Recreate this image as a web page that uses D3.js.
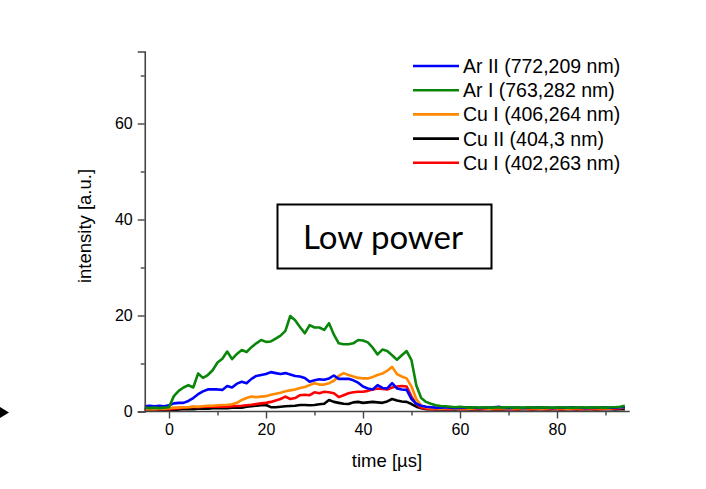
<!DOCTYPE html>
<html><head><meta charset="utf-8">
<script src="https://cdn.jsdelivr.net/npm/d3@7"></script>
<style>
html,body{margin:0;padding:0;background:#fff;}
svg{display:block;}
</style></head>
<body>
<svg id="chart" width="706" height="489"></svg>
<script>
// ---- data ----
const time = d3.range(-5, 95, 1); // µs, -5 .. 94

const seriesNames = ["Ar II (772,209 nm)","Ar I (763,282 nm)","Cu I (406,264 nm)","Cu II (404,3 nm)","Cu I (402,263 nm)"];
const seriesColors = ["#0000ff","#0a870a","#ff8a00","#000000","#ff0000"];

const arII = [1.1,1.2,1.1,1.2,1.1,1.3,
 1.7,1.8,1.8,2.2,2.8,3.6,4.2,4.6,4.6,4.6,
 4.5,5.3,5.0,5.8,6.2,5.9,6.8,7.4,7.6,7.8,
 8.2,8.0,7.8,8.0,7.7,7.4,7.3,7.0,6.2,6.5,
 6.7,6.6,6.9,7.5,6.8,6.8,6.8,6.5,6.0,5.2,
 4.8,4.6,5.5,4.9,4.8,5.9,4.8,4.6,4.5,2.6,
 1.6,1.2,1.0,0.9,0.8,0.8,0.9,0.8,0.7,0.8,
 0.8,0.9,0.8,0.7,0.8,0.8,0.9,1.0,0.8,0.7,
 0.8,0.8,0.7,0.8,0.8,0.9,0.8,0.8,0.7,0.8,
 0.8,0.8,0.9,0.8,0.8,0.7,0.8,0.8,0.8,0.9,
 0.8,0.8,0.9,0.9];

const arI = [0.8,0.7,0.8,0.7,0.8,0.9,
 3.2,4.3,5.0,5.5,5.0,7.9,7.0,7.6,8.6,10.2,
 11.0,12.5,10.9,12.0,12.8,12.4,13.4,14.2,14.9,14.5,
 14.6,15.2,15.8,16.8,19.9,19.0,17.6,16.3,18.0,17.5,
 17.5,17.0,18.4,16.0,14.2,14.0,14.0,14.2,14.9,14.8,
 14.4,13.3,11.9,12.9,12.6,11.7,10.8,11.7,12.6,10.7,
 5.4,2.8,2.0,1.6,1.3,1.15,1.1,1.0,0.9,1.0,
 0.9,0.8,0.9,0.8,0.9,0.8,0.8,0.9,0.8,0.9,
 0.8,0.8,0.8,0.9,0.8,0.8,0.9,0.8,0.8,0.8,
 0.9,0.8,0.8,0.8,0.9,0.8,0.8,0.9,0.8,0.8,
 0.9,0.9,1.0,1.2];

const cuI406 = [0.5,0.5,0.5,0.6,0.6,0.7,
 0.8,0.8,0.9,0.9,1.0,1.0,1.1,1.2,1.2,1.3,
 1.35,1.4,1.5,1.8,2.4,2.8,3.1,3.0,3.1,3.2,
 3.5,3.7,3.9,4.2,4.4,4.6,4.9,5.1,5.5,5.9,
 5.6,5.6,5.9,6.4,7.4,8.0,7.6,7.3,7.0,6.9,
 6.9,7.2,7.6,7.9,8.5,9.3,7.8,7.3,6.9,5.2,
 2.6,1.2,0.9,0.7,0.7,0.6,0.7,0.7,0.6,0.7,
 0.7,0.6,0.7,0.7,0.7,0.6,0.7,0.7,0.7,0.6,
 0.7,0.7,0.6,0.7,0.7,0.7,0.6,0.7,0.7,0.7,
 0.7,0.6,0.7,0.7,0.7,0.7,0.8,0.7,0.7,0.7,
 0.7,0.8,0.8,0.9];

const cuII404 = [0.3,0.3,0.3,0.3,0.3,0.3,
 0.4,0.4,0.5,0.5,0.5,0.6,0.6,0.6,0.7,0.7,
 0.7,0.7,0.8,0.8,0.8,1.0,1.1,1.2,1.3,1.35,
 0.9,0.9,1.0,1.1,1.15,1.2,1.35,1.35,1.3,1.35,
 1.5,1.6,2.4,2.0,1.8,1.6,1.55,1.9,2.0,1.8,
 1.9,2.0,1.9,1.8,2.1,2.6,2.3,2.1,2.0,1.55,
 1.0,0.7,0.5,0.5,0.4,0.5,0.4,0.5,0.4,0.5,
 0.5,0.4,0.5,0.4,0.5,0.5,0.4,0.5,0.4,0.5,
 0.5,0.4,0.5,0.5,0.4,0.5,0.5,0.4,0.5,0.5,
 0.4,0.5,0.5,0.4,0.5,0.5,0.5,0.4,0.5,0.5,
 0.5,0.4,0.5,0.5];

const cuI402 = [0.4,0.4,0.5,0.4,0.5,0.5,
 0.6,0.7,0.8,0.9,1.0,0.9,1.0,1.0,1.0,1.0,
 1.0,1.0,1.1,1.15,1.2,1.3,1.4,1.55,1.7,1.8,
 2.0,2.3,2.6,3.1,2.6,2.8,3.4,3.5,3.4,4.0,
 3.8,4.1,4.0,3.8,3.0,3.4,3.8,4.0,4.1,4.1,
 4.3,4.6,4.8,4.7,4.6,5.0,5.2,5.3,5.2,3.1,
 1.5,0.8,0.6,0.5,0.5,0.6,0.5,0.5,0.6,0.5,
 0.5,0.6,0.5,0.5,0.5,0.6,0.5,0.5,0.6,0.5,
 0.5,0.5,0.6,0.5,0.5,0.6,0.5,0.5,0.5,0.6,
 0.5,0.5,0.6,0.5,0.5,0.5,0.6,0.5,0.5,0.6,
 0.6,0.6,0.7,0.8];

const seriesValues = [arII, arI, cuI406, cuII404, cuI402];
const drawOrder = [3, 4, 2, 0, 1];

const xMajorTicks = [0, 20, 40, 60, 80];
const xMinorTicks = [10, 30, 50, 70, 90];
const yMajorTicks = [0, 20, 40, 60];
const yMinorTicks = [10, 30, 50, 70];
const xTitle = "time [µs]";
const yTitle = "intensity [a.u.]";
const boxLabel = "Low power";

// ---- drawing ----
const svg = d3.select("#chart");
const x = d3.scaleLinear().domain([-5, 95]).range([144.75, 629.75]);
const y = d3.scaleLinear().domain([0, 75]).range([411.5, 51.5]);
const axisColor = "#444";
const font = "'Liberation Sans', Arial, sans-serif";

// left arrow mark
svg.append("path").attr("d", "M0,407 L9,412.5 L0,418 Z").attr("fill", "#000");

// lines
const line = d3.line().x((d, i) => x(time[i])).y(d => y(d));
drawOrder.forEach(k => {
  svg.append("path").datum(seriesValues[k])
    .attr("d", line).attr("fill", "none")
    .attr("stroke", seriesColors[k]).attr("stroke-width", 2.6)
    .attr("stroke-linejoin", "round");
});

// axes
const gx = svg.append("g").attr("transform", `translate(0,${y(0)})`);
gx.call(d3.axisBottom(x).tickValues(xMajorTicks).tickSize(7).tickPadding(5));
const gxm = svg.append("g").attr("transform", `translate(0,${y(0)})`);
gxm.call(d3.axisBottom(x).tickValues(xMinorTicks).tickSize(4).tickFormat(""));
const gy = svg.append("g").attr("transform", `translate(${x(-5)},0)`);
gy.call(d3.axisLeft(y).tickValues(yMajorTicks).tickSize(7).tickPadding(5));
const gym = svg.append("g").attr("transform", `translate(${x(-5)},0)`);
gym.call(d3.axisLeft(y).tickValues(yMinorTicks).tickSize(4).tickFormat(""));
[gx, gxm, gy, gym].forEach(g => {
  g.select(".domain").attr("stroke", axisColor).attr("stroke-width", 1.6);
  g.selectAll(".tick line").attr("stroke", axisColor).attr("stroke-width", 1.4);
  g.selectAll(".tick text").attr("fill", "#000").style("font-family", font).style("font-size", "16px");
});
gx.select(".domain").attr("d", `M${x(-5)},0H${x(95)}`);
gxm.select(".domain").remove();
gym.select(".domain").remove();

// axis titles
svg.append("text").attr("x", 387).attr("y", 467).attr("text-anchor", "middle")
  .style("font-family", font).style("font-size", "18.5px").text(xTitle);
svg.append("text").attr("transform", "translate(91,226) rotate(-90)").attr("text-anchor", "middle")
  .style("font-family", font).style("font-size", "18.5px").text(yTitle);

// legend
seriesNames.forEach((name, i) => {
  const yy = 66 + i * 24.2;
  svg.append("line").attr("x1", 413).attr("x2", 459).attr("y1", yy).attr("y2", yy)
    .attr("stroke", seriesColors[i]).attr("stroke-width", 2.6);
  svg.append("text").attr("x", 463).attr("y", yy + 7).style("font-family", font)
    .style("font-size", "19.5px").text(name);
});

// label box
svg.append("rect").attr("x", 277.5).attr("y", 204.5).attr("width", 214).attr("height", 64)
  .attr("fill", "#fff").attr("stroke", "#000").attr("stroke-width", 2);
svg.append("text").attr("x", 383).attr("y", 249).attr("text-anchor", "middle")
  .style("font-family", "Lato, 'Open Sans', sans-serif").style("font-size", "33px").text(boxLabel);
</script>
</body></html>
